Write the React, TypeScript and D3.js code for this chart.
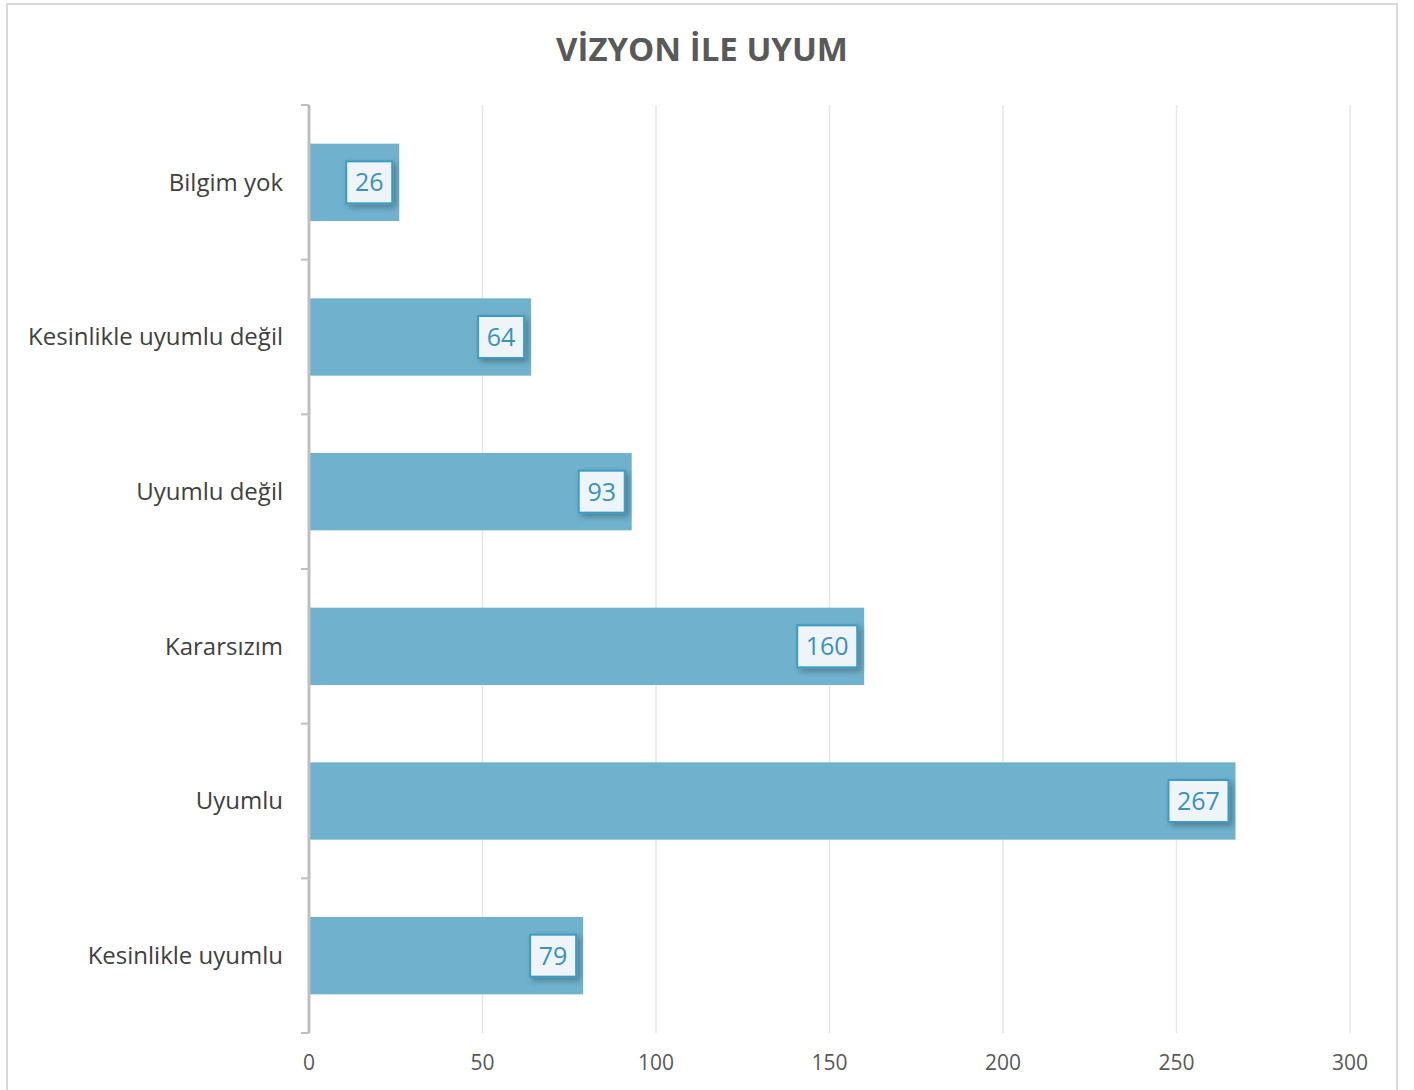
import React from "react";
import * as d3 from "d3";

const categories = ["Bilgim yok", "Kesinlikle uyumlu değil", "Uyumlu değil", "Kararsızım", "Uyumlu", "Kesinlikle uyumlu"];
const values = [26, 64, 93, 160, 267, 79];
const xTicks = [0, 50, 100, 150, 200, 250, 300];
const title = "VİZYON İLE UYUM";

const W = 1414, H = 1090;
const left = 309, right = 1350, top = 105, bottom = 1033;
const FONT = "'Open Sans', 'Noto Sans', sans-serif";

export default function App() {
  const x = d3.scaleLinear().domain([0, 300]).range([left, right]);
  const y = d3.scaleBand<string>().domain(categories).range([top, bottom]).paddingInner(0.5).paddingOuter(0.25);
  const step = y.step();
  const boundaries = d3.range(categories.length + 1).map((i) => top + i * step);

  return (
    <svg width={W} height={H} style={{ position: "absolute", left: 0, top: 0, background: "#fff" }}>
      <defs>
        <filter id="sh" x="-30%" y="-30%" width="170%" height="170%">
          <feDropShadow dx="3" dy="3" stdDeviation="3" floodColor="#000" floodOpacity="0.3" />
        </filter>
      </defs>
      <rect x={7} y={4} width={1390} height={1100} fill="#fff" stroke="#d9d9d9" strokeWidth={2} />
      <text x={702} y={61} textAnchor="middle" fontFamily={FONT} fontWeight={700} fontSize={33} fill="#595959">{title}</text>
      {xTicks.slice(1).map((t) => (
        <line key={t} x1={x(t)} x2={x(t)} y1={top} y2={bottom} stroke="#e6e6e6" strokeWidth={1.5} />
      ))}
      {categories.map((c, i) => (
        <rect key={c} x={x(0)} y={y(c)!} width={x(values[i]) - x(0)} height={y.bandwidth()} fill="#70b2ce" />
      ))}
      <line x1={left} x2={left} y1={top} y2={bottom} stroke="#bfbfbf" strokeWidth={3} />
      {boundaries.map((b, i) => (
        <line key={i} x1={301} x2={left} y1={b} y2={b} stroke="#bfbfbf" strokeWidth={2} />
      ))}
      {categories.map((c) => (
        <text key={c} x={283} y={y(c)! + y.bandwidth() / 2} dy="0.35em" textAnchor="end" fontFamily={FONT} fontSize={24} fill="#404040">{c}</text>
      ))}
      {xTicks.map((t) => (
        <text key={t} x={x(t)} y={1063} dy="0.35em" textAnchor="middle" fontFamily={FONT} fontSize={21} fill="#595959">{t}</text>
      ))}
      {categories.map((c, i) => {
        const s = String(values[i]);
        const bw = s.length * 14 + 18;
        const bh = 42;
        const xr = x(values[i]) - 7;
        const cy = y(c)! + y.bandwidth() / 2;
        return (
          <g key={c}>
            <rect x={xr - bw} y={cy - bh / 2} width={bw} height={bh} fill="#eef4f8" stroke="#3d9cc3" strokeWidth={2} filter="url(#sh)" />
            <text x={xr - bw / 2} y={cy} dy="0.36em" textAnchor="middle" fontFamily={FONT} fontSize={25} fill="#3a93b8">{s}</text>
          </g>
        );
      })}
    </svg>
  );
}
